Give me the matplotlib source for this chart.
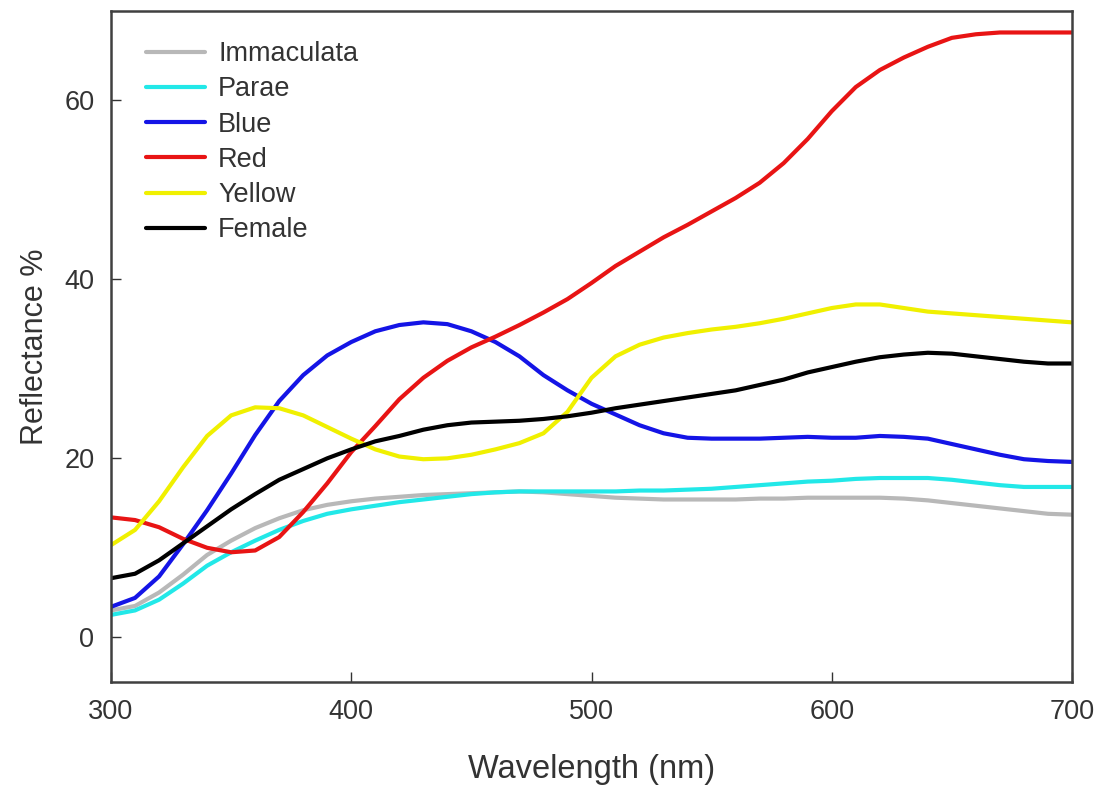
import numpy as np
import matplotlib
matplotlib.use("Agg")
import matplotlib.pyplot as plt

plt.rcParams['font.family'] = ['Liberation Sans', 'DejaVu Sans']

wavelength = list(range(300, 701, 10))

immaculata = [3.0, 3.5, 5.0, 7.0, 9.2, 10.8, 12.2, 13.3, 14.2, 14.8, 15.2, 15.5, 15.7, 15.9,
              16.0, 16.1, 16.2, 16.3, 16.2, 16.0, 15.8, 15.6, 15.5, 15.4, 15.4, 15.4, 15.4,
              15.5, 15.5, 15.6, 15.6, 15.6, 15.6, 15.5, 15.3, 15.0, 14.7, 14.4, 14.1, 13.8, 13.7]
parae = [2.5, 3.0, 4.2, 6.0, 8.0, 9.5, 10.8, 12.0, 13.0, 13.8, 14.3, 14.7, 15.1, 15.4,
         15.7, 16.0, 16.2, 16.3, 16.3, 16.3, 16.3, 16.3, 16.4, 16.4, 16.5, 16.6, 16.8,
         17.0, 17.2, 17.4, 17.5, 17.7, 17.8, 17.8, 17.8, 17.6, 17.3, 17.0, 16.8, 16.8, 16.8]
blue = [3.4, 4.4, 6.8, 10.4, 14.2, 18.3, 22.6, 26.4, 29.3, 31.5, 33.0, 34.2, 34.9, 35.2,
        35.0, 34.2, 33.0, 31.4, 29.3, 27.6, 26.1, 24.9, 23.7, 22.8, 22.3, 22.2, 22.2,
        22.2, 22.3, 22.4, 22.3, 22.3, 22.5, 22.4, 22.2, 21.6, 21.0, 20.4, 19.9, 19.7, 19.6]
red = [13.4, 13.1, 12.3, 11.0, 10.0, 9.5, 9.7, 11.2, 14.0, 17.2, 20.7, 23.6, 26.6, 29.0,
       30.9, 32.4, 33.6, 34.9, 36.3, 37.8, 39.6, 41.5, 43.1, 44.7, 46.1, 47.6, 49.1,
       50.8, 53.0, 55.7, 58.8, 61.5, 63.4, 64.8, 66.0, 67.0, 67.4, 67.6, 67.6, 67.6, 67.6]
yellow = [10.3, 12.0, 15.2, 19.0, 22.5, 24.8, 25.7, 25.6, 24.8, 23.5, 22.2, 21.0, 20.2, 19.9,
          20.0, 20.4, 21.0, 21.7, 22.8, 25.2, 29.0, 31.4, 32.7, 33.5, 34.0, 34.4, 34.7,
          35.1, 35.6, 36.2, 36.8, 37.2, 37.2, 36.8, 36.4, 36.2, 36.0, 35.8, 35.6, 35.4, 35.2]
female = [6.6, 7.1, 8.6, 10.5, 12.4, 14.3, 16.0, 17.6, 18.8, 20.0, 21.0, 21.9, 22.5, 23.2,
          23.7, 24.0, 24.1, 24.2, 24.4, 24.7, 25.1, 25.6, 26.0, 26.4, 26.8, 27.2, 27.6,
          28.2, 28.8, 29.6, 30.2, 30.8, 31.3, 31.6, 31.8, 31.7, 31.4, 31.1, 30.8, 30.6, 30.6]

series_names = ['Immaculata', 'Parae', 'Blue', 'Red', 'Yellow', 'Female']
series_values = [immaculata, parae, blue, red, yellow, female]
series_colors = ['#b8b8b8', '#22e8e8', '#1414e6', '#e81414', '#f0f000', '#000000']

x_ticks = [300, 400, 500, 600, 700]
y_ticks = [0, 20, 40, 60]

fig = plt.figure(figsize=(11.08, 7.92), dpi=100)
ax = fig.add_axes([0.1002, 0.1389, 0.8673, 0.8472])

for name, vals, col in zip(series_names, series_values, series_colors):
    ax.plot(wavelength, vals, color=col, lw=3.0, label=name, solid_capstyle='round',
            solid_joinstyle='round')

ax.set_xlim(300, 700)
ax.set_ylim(-5, 70)
ax.set_xticks(x_ticks)
ax.set_yticks(y_ticks)
txtcol = '#333333'
ax.tick_params(direction='in', length=7, width=1, colors='#333333', labelsize=19.5,
               labelcolor=txtcol)
ax.tick_params(axis='x', pad=12)
ax.tick_params(axis='y', pad=12)
for s in ax.spines.values():
    s.set_linewidth(1.8)
    s.set_color('#404040')

ax.set_xlabel('Wavelength (nm)', fontsize=23.5, color=txtcol, labelpad=21)
ax.set_ylabel('Reflectance %', fontsize=22, color=txtcol, labelpad=10)

leg = ax.legend(loc='upper left', bbox_to_anchor=(0.036, 0.955), frameon=False,
                fontsize=19.5, handlelength=2.2, handletextpad=0.48, labelspacing=0.34,
                borderpad=0, borderaxespad=0)
for t in leg.get_texts():
    t.set_color(txtcol)

fig.savefig('out.png', dpi=100)
